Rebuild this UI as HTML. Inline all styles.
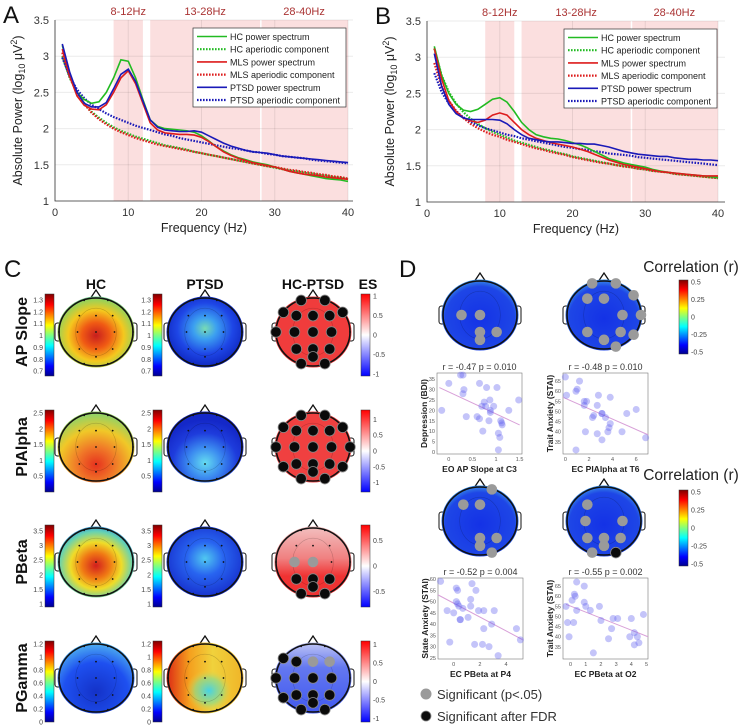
<!DOCTYPE html>
<html><head><meta charset="utf-8">
<style>
html,body{margin:0;padding:0;background:#fff;}
svg{display:block;font-family:"Liberation Sans",sans-serif;}
</style></head>
<body>
<svg id="fig" width="740" height="728" viewBox="0 0 740 728" xmlns="http://www.w3.org/2000/svg">
<defs>
  <linearGradient id="jet" x1="0" y1="1" x2="0" y2="0">
    <stop offset="0" stop-color="#00008f"/><stop offset="0.12" stop-color="#0000ff"/>
    <stop offset="0.37" stop-color="#00ffff"/><stop offset="0.5" stop-color="#80ff80"/>
    <stop offset="0.62" stop-color="#ffff00"/><stop offset="0.87" stop-color="#ff0000"/>
    <stop offset="1" stop-color="#800000"/>
  </linearGradient>
  <linearGradient id="bwr" x1="0" y1="1" x2="0" y2="0">
    <stop offset="0" stop-color="#0000ff"/><stop offset="0.5" stop-color="#ffffff"/><stop offset="1" stop-color="#ff0000"/>
  </linearGradient>
  <radialGradient id="g1hc" cx="0.5" cy="0.55" r="0.6"><stop offset="0" stop-color="#c81e1e"/><stop offset="0.3" stop-color="#f05a14"/><stop offset="0.6" stop-color="#f5c81e"/><stop offset="0.85" stop-color="#96d25a"/><stop offset="1" stop-color="#46c8e6"/></radialGradient>
  <radialGradient id="g1pt" cx="0.5" cy="0.45" r="0.6"><stop offset="0" stop-color="#78dcb4"/><stop offset="0.25" stop-color="#3ca0f0"/><stop offset="0.6" stop-color="#1e46e6"/><stop offset="1" stop-color="#0a1eb4"/></radialGradient>
  <radialGradient id="g2hc" cx="0.5" cy="0.75" r="0.7"><stop offset="0" stop-color="#e6321e"/><stop offset="0.35" stop-color="#f07828"/><stop offset="0.7" stop-color="#f0c828"/><stop offset="1" stop-color="#96d264"/></radialGradient>
  <radialGradient id="g2pt" cx="0.5" cy="0.72" r="0.6"><stop offset="0" stop-color="#64dcf0"/><stop offset="0.35" stop-color="#3c8cf0"/><stop offset="0.7" stop-color="#1e3cdc"/><stop offset="1" stop-color="#1428c8"/></radialGradient>
  <radialGradient id="g3hc" cx="0.5" cy="0.55" r="0.6"><stop offset="0" stop-color="#d21e1e"/><stop offset="0.3" stop-color="#f07814"/><stop offset="0.55" stop-color="#f0dc28"/><stop offset="0.8" stop-color="#64d2b4"/><stop offset="1" stop-color="#2878f0"/></radialGradient>
  <radialGradient id="g3pt" cx="0.5" cy="0.45" r="0.6"><stop offset="0" stop-color="#50c8f0"/><stop offset="0.4" stop-color="#2864f0"/><stop offset="1" stop-color="#1428c8"/></radialGradient>
  <linearGradient id="g3es" x1="0" y1="0" x2="0" y2="1"><stop offset="0" stop-color="#f2c0c0"/><stop offset="0.45" stop-color="#f08080"/><stop offset="0.7" stop-color="#f03232"/><stop offset="1" stop-color="#f03232"/></linearGradient>
  <radialGradient id="g4hc" cx="0.5" cy="0.7" r="0.7"><stop offset="0" stop-color="#1432c8"/><stop offset="0.6" stop-color="#1e50f0"/><stop offset="1" stop-color="#50b4f0"/></radialGradient>
  <linearGradient id="g4pt" x1="0" y1="0" x2="1" y2="0"><stop offset="0" stop-color="#dc2814"/><stop offset="0.3" stop-color="#f5a01e"/><stop offset="0.6" stop-color="#f0d23c"/><stop offset="1" stop-color="#f0b428"/></linearGradient>
  <radialGradient id="g4ptb" cx="0.55" cy="0.68" r="0.3"><stop offset="0" stop-color="#46d2e6"/><stop offset="0.6" stop-color="#8cdc8c" stop-opacity="0.7"/><stop offset="1" stop-color="#f0d23c" stop-opacity="0"/></radialGradient>
  <linearGradient id="g4es" x1="0" y1="0" x2="0" y2="1"><stop offset="0" stop-color="#c0c6f5"/><stop offset="0.35" stop-color="#6478f0"/><stop offset="1" stop-color="#4058f0"/></linearGradient>
  <radialGradient id="gd" cx="0.5" cy="0.55" r="0.6"><stop offset="0" stop-color="#1432e6"/><stop offset="0.75" stop-color="#1e46e6"/><stop offset="1" stop-color="#46b4e6"/></radialGradient>
</defs>
</svg>
<script>
const NS='http://www.w3.org/2000/svg';
const svg=document.getElementById('fig');
function el(tag,attrs,parent){const e=document.createElementNS(NS,tag);for(const k in attrs)e.setAttribute(k,attrs[k]);(parent||svg).appendChild(e);return e;}
function txt(x,y,s,attrs,parent){const t=el('text',Object.assign({x:x,y:y},attrs||{}),parent);t.textContent=s;return t;}

// ===== Spectra data =====
const freqs=[1,2,3,4,5,6,7,8,9,10,11,12,13,14,15,16,17,18,19,20,21,22,23,24,25,26,27,28,29,30,31,32,33,34,35,36,37,38,39,40];
const seriesNames=['HC power spectrum','HC aperiodic component','MLS power spectrum','MLS aperiodic component','PTSD power spectrum','PTSD aperiodic component'];
const aHcPow=[3.15,2.75,2.5,2.4,2.35,2.37,2.5,2.7,2.95,2.93,2.7,2.4,2.12,2.03,2.0,1.99,1.98,1.97,1.95,1.9,1.83,1.75,1.69,1.64,1.6,1.57,1.54,1.52,1.5,1.47,1.44,1.41,1.39,1.37,1.35,1.33,1.31,1.3,1.29,1.27];
const aHcAp=[3.0,2.7,2.5,2.35,2.23,2.15,2.08,2.02,1.97,1.93,1.89,1.86,1.83,1.8,1.77,1.75,1.73,1.71,1.68,1.66,1.64,1.62,1.6,1.58,1.56,1.54,1.52,1.5,1.48,1.46,1.44,1.42,1.41,1.39,1.38,1.36,1.35,1.33,1.32,1.3];
const aMlsPow=[3.1,2.72,2.45,2.32,2.27,2.26,2.33,2.5,2.7,2.8,2.62,2.35,2.08,1.98,1.94,1.93,1.92,1.92,1.91,1.88,1.82,1.75,1.68,1.63,1.59,1.56,1.53,1.51,1.49,1.47,1.44,1.41,1.39,1.37,1.36,1.35,1.33,1.32,1.31,1.3];
const aMlsAp=[3.05,2.72,2.5,2.34,2.22,2.13,2.06,2.0,1.95,1.91,1.87,1.84,1.81,1.78,1.76,1.74,1.72,1.7,1.68,1.66,1.64,1.62,1.6,1.58,1.56,1.54,1.52,1.5,1.48,1.47,1.45,1.43,1.42,1.4,1.39,1.37,1.36,1.34,1.33,1.31];
const aPtsdPow=[3.17,2.78,2.5,2.35,2.3,2.3,2.36,2.55,2.75,2.82,2.65,2.38,2.12,2.02,1.98,1.97,1.96,1.96,1.97,1.95,1.9,1.85,1.8,1.76,1.73,1.7,1.68,1.67,1.66,1.64,1.62,1.61,1.6,1.59,1.58,1.57,1.56,1.55,1.54,1.53];
const aPtsdAp=[2.98,2.72,2.54,2.42,2.33,2.27,2.21,2.16,2.12,2.08,2.04,2.01,1.98,1.95,1.92,1.9,1.87,1.85,1.83,1.81,1.79,1.77,1.75,1.73,1.72,1.7,1.68,1.67,1.65,1.64,1.62,1.61,1.6,1.59,1.57,1.56,1.55,1.54,1.53,1.52];
const bHcPow=[3.15,2.75,2.5,2.35,2.27,2.25,2.28,2.35,2.42,2.44,2.38,2.25,2.1,2.0,1.93,1.9,1.88,1.87,1.85,1.82,1.79,1.75,1.7,1.65,1.6,1.57,1.54,1.52,1.5,1.48,1.45,1.43,1.41,1.4,1.39,1.38,1.37,1.36,1.35,1.34];
const bHcAp=[3.12,2.75,2.52,2.36,2.24,2.15,2.08,2.02,1.97,1.93,1.89,1.85,1.82,1.79,1.76,1.73,1.71,1.68,1.66,1.63,1.61,1.59,1.57,1.55,1.53,1.51,1.5,1.48,1.46,1.45,1.43,1.42,1.41,1.39,1.38,1.37,1.36,1.35,1.34,1.33];
const bMlsPow=[3.12,2.7,2.4,2.25,2.16,2.12,2.1,2.13,2.2,2.23,2.2,2.1,2.0,1.93,1.88,1.85,1.82,1.8,1.78,1.76,1.73,1.7,1.66,1.62,1.58,1.55,1.52,1.5,1.48,1.46,1.44,1.42,1.41,1.4,1.39,1.38,1.37,1.36,1.36,1.36];
const bMlsAp=[2.92,2.6,2.4,2.26,2.16,2.08,2.02,1.97,1.93,1.9,1.86,1.83,1.8,1.77,1.74,1.72,1.69,1.67,1.65,1.62,1.6,1.58,1.56,1.54,1.53,1.51,1.49,1.48,1.46,1.45,1.43,1.42,1.41,1.39,1.38,1.37,1.36,1.35,1.34,1.33];
const bPtsdPow=[3.05,2.6,2.35,2.22,2.16,2.14,2.14,2.14,2.14,2.13,2.08,2.0,1.93,1.88,1.86,1.84,1.83,1.83,1.82,1.81,1.81,1.8,1.8,1.78,1.76,1.73,1.7,1.68,1.66,1.65,1.64,1.63,1.63,1.61,1.6,1.59,1.59,1.58,1.58,1.57];
const bPtsdAp=[2.78,2.52,2.36,2.25,2.17,2.11,2.06,2.02,1.99,1.96,1.93,1.91,1.88,1.86,1.84,1.82,1.8,1.78,1.76,1.75,1.73,1.72,1.7,1.69,1.67,1.66,1.65,1.64,1.62,1.61,1.6,1.59,1.58,1.57,1.56,1.55,1.54,1.53,1.52,1.51];
const xTicks=[0,10,20,30,40];
const yTicks=[1,1.5,2,2.5,3,3.5];
const bands=[[8,12,'8-12Hz'],[13,28,'13-28Hz'],[28,40,'28-40Hz']];

function spectrum(name,letter,x0,x1,boxR,yTop,yBot,data,legX){
  const g=el('g',{});
  
  
  const X=f=>x0+(x1-x0)*f/40, Y=v=>yBot-(yBot-yTop)*(v-1)/2.5;
  const L=txt(x0-52,yTop+3,letter,{'font-size':24,fill:'#111'},g);
  
  
  bands.forEach((b,i)=>{
    const r=el('rect',{x:X(b[0])+(i==2?1.5:0),y:yTop,width:X(b[1])-X(b[0])-(i==2?1.5:0),height:yBot-yTop,fill:'#fbdfdf'},g);
    
    
    const t=txt((X(b[0])+X(b[1]))/2,yTop-5,b[2],{'font-size':11,fill:'#a33','text-anchor':'middle'},g);
    
    
  });
  xTicks.forEach(v=>{
    el('line',{x1:X(v),x2:X(v),y1:yTop,y2:yBot,stroke:'#000','stroke-opacity':0.08},g);
    const t=txt(X(v),yBot+15,String(v),{'font-size':11,fill:'#333','text-anchor':'middle'},g);
    
    
  });
  yTicks.forEach(v=>{
    el('line',{x1:x0,x2:boxR,y1:Y(v),y2:Y(v),stroke:'#000','stroke-opacity':0.08},g);
    const t=txt(x0-6,Y(v)+4,String(v),{'font-size':11,fill:'#333','text-anchor':'end'},g);
    
    
  });
  el('path',{d:`M${x0},${yTop}V${yBot}H${boxR}`,stroke:'#333',fill:'none','stroke-width':0.8},g);
  const cols=['#22bb22','#22bb22','#dd1c1c','#dd1c1c','#1a1ab8','#1a1ab8'];
  const order=[1,3,5,0,2,4];
  order.forEach(i=>{
    const vals=data[i];
    let d='';freqs.forEach((f,k)=>{d+=(k?'L':'M')+X(f).toFixed(1)+','+Y(vals[k]).toFixed(1);});
    const p=el('path',{d:d,fill:'none',stroke:cols[i],'stroke-width':i%2?2.2:1.6,'stroke-dasharray':i%2?'1.6,1.4':'none'},g);
    
    
  });
  const lg=el('g',{},g);
  
  
  el('rect',{x:legX,y:yTop+8,width:153,height:79,fill:'#fff',stroke:'#333','stroke-width':0.7},lg);
  seriesNames.forEach((s,i)=>{
    const yy=yTop+16.5+i*12.7;
    el('line',{x1:legX+4,x2:legX+34,y1:yy,y2:yy,stroke:cols[i],'stroke-width':i%2?2.2:1.6,'stroke-dasharray':i%2?'1.6,1.4':'none'},lg);
    const t=txt(legX+37,yy+3.5,s,{'font-size':9,fill:'#222'},lg);
    
    
  });
  const xl=txt((x0+boxR)/2,yBot+31,'Frequency (Hz)',{'font-size':12.5,fill:'#222','text-anchor':'middle'},g);
  
  
  const yl=el('text',{x:0,y:0,'font-size':12.5,fill:'#222','text-anchor':'middle',transform:`translate(${x0-33},${(yTop+yBot)/2}) rotate(-90)`},g);
  yl.innerHTML='Absolute Power (log<tspan font-size="9" dy="3">10</tspan><tspan dy="-3"> μV</tspan><tspan font-size="9" dy="-5">2</tspan><tspan dy="5">)</tspan>';
  
  
}
spectrum('panel-a-spectrum','A',55,348,353,20,201,[aHcPow,aHcAp,aMlsPow,aMlsAp,aPtsdPow,aPtsdAp],193);
spectrum('panel-b-spectrum','B',427,718,725,21,202,[bHcPow,bHcAp,bMlsPow,bMlsAp,bPtsdPow,bPtsdAp],564);

// ===== Topographic maps =====
const elec={Fp1:[-0.32,-0.93],Fp2:[0.32,-0.93],F7:[-0.8,-0.58],F3:[-0.45,-0.48],Fz:[0,-0.48],F4:[0.45,-0.48],F8:[0.8,-0.58],T7:[-1.0,0],C3:[-0.5,0],Cz:[0,0],C4:[0.5,0],T8:[1.0,0],P7:[-0.8,0.58],P3:[-0.45,0.5],Pz:[0,0.5],P4:[0.45,0.5],P8:[0.8,0.58],Oz:[0,0.73],O1:[-0.32,0.93],O2:[0.32,0.93]};
const smallDots=['F3','Fz','F4','T7','C3','Cz','C4','T8','P3','Pz','P4','Oz','Fp1','Fp2','O1','O2'];
function head(name,cx,cy,fill,overlay,black,gray,dots){
  const g=el('g',{});
  
  
  const rx=37,ry=34;
  el('path',{d:`M${cx-6},${cy-ry+1}L${cx},${cy-ry-8}L${cx+6},${cy-ry+1}`,fill:'none',stroke:'#111','stroke-width':1.3},g);
  el('rect',{x:cx-rx-4,y:cy-9,width:6,height:18,rx:2.5,fill:'none',stroke:'#111','stroke-width':1},g);
  el('rect',{x:cx+rx-2,y:cy-9,width:6,height:18,rx:2.5,fill:'none',stroke:'#111','stroke-width':1},g);
  el('ellipse',{cx:cx,cy:cy,rx:rx+1.5,ry:ry+1.5,fill:fill},g);
  if(overlay)el('ellipse',{cx:cx,cy:cy,rx:rx+1.5,ry:ry+1.5,fill:overlay},g);
  el('ellipse',{cx:cx,cy:cy,rx:rx*0.55,ry:ry*0.7,fill:'none',stroke:'#000','stroke-opacity':0.2,'stroke-width':0.6},g);
  el('ellipse',{cx:cx,cy:cy,rx:rx,ry:ry,fill:'none',stroke:'#111','stroke-width':1.6},g);
  const P=k=>[cx+elec[k][0]*rx,cy+elec[k][1]*ry];
  if(dots)smallDots.forEach(k=>{if(black.indexOf(k)<0&&gray.indexOf(k)<0){const p=P(k);el('circle',{cx:p[0],cy:p[1],r:0.9,fill:'#111'},g);}});
  gray.forEach(k=>{const p=P(k);const c=el('circle',{cx:p[0],cy:p[1],r:5.3,fill:'#9a9a9a'},g);});
  black.forEach(k=>{const p=P(k);const c=el('circle',{cx:p[0],cy:p[1],r:5.3,fill:'#0a0a0a',stroke:'#888','stroke-width':0.8},g);});
}
function cbar(name,x,y0,y1,grad,ticks,lo,hi,side){
  const g=el('g',{});
  
  
  el('rect',{x:x,y:y0,width:9,height:y1-y0,fill:'url(#'+grad+')',stroke:'#333','stroke-width':0.5},g);
  ticks.forEach(v=>{
    const yy=y1-(y1-y0)*(v-lo)/(hi-lo);
    const t=txt(side=='l'?x-2:x+12,yy+2.5,String(v),{'font-size':7,fill:'#444','text-anchor':side=='l'?'end':'start'},g);
    
    
  });
}
const allE=Object.keys(elec);
// row 1
cbar('colorbar-ap-hc',45,294,376,'jet',[0.7,0.8,0.9,1,1.1,1.2,1.3],0.66,1.35,'l');
cbar('colorbar-ap-ptsd',153,294,376,'jet',[0.7,0.8,0.9,1,1.1,1.2,1.3],0.66,1.35,'l');
cbar('colorbar-ap-es',361,294,376,'bwr',[-1,-0.5,0,0.5,1],-1.05,1.05,'r');
head('topo-ap-hc',96,332,'url(#g1hc)',null,[],[],true);
head('topo-ap-ptsd',205,332,'url(#g1pt)',null,[],[],true);
head('topo-ap-es',313,332,'#f03c3c',null,['Fp1','Fp2','F7','F8','F3','Fz','F4','T7','C3','Cz','C4','P3','Pz','P4','Oz','O1','O2'],[],true);
// row 2
cbar('colorbar-pialpha-hc',45,410,492,'jet',[0.5,1,1.5,2,2.5],0,2.6,'l');
cbar('colorbar-pialpha-ptsd',153,410,492,'jet',[0.5,1,1.5,2,2.5],0,2.6,'l');
cbar('colorbar-pialpha-es',361,410,492,'bwr',[-1,-0.5,0,0.5,1],-1.3,1.3,'r');
head('topo-pialpha-hc',96,447,'url(#g2hc)',null,[],[],true);
head('topo-pialpha-ptsd',205,447,'url(#g2pt)',null,[],[],true);
head('topo-pialpha-es',313,447,'#f04040',null,allE,[],true);
// row 3
cbar('colorbar-pbeta-hc',45,525,607,'jet',[1,1.5,2,2.5,3,3.5],0.9,3.7,'l');
cbar('colorbar-pbeta-ptsd',153,525,607,'jet',[1,1.5,2,2.5,3,3.5],0.9,3.7,'l');
cbar('colorbar-pbeta-es',361,525,607,'bwr',[-0.5,0,0.5],-0.8,0.8,'r');
head('topo-pbeta-hc',96,562,'url(#g3hc)',null,[],[],true);
head('topo-pbeta-ptsd',205,562,'url(#g3pt)',null,[],[],true);
head('topo-pbeta-es',313,562,'url(#g3es)',null,['P3','Pz','P4','Oz','O1','O2'],['C3','Cz'],true);
// row 4
cbar('colorbar-pgamma-hc',45,641,722,'jet',[0,0.2,0.4,0.6,0.8,1,1.2],0,1.25,'l');
cbar('colorbar-pgamma-ptsd',153,641,722,'jet',[0,0.2,0.4,0.6,0.8,1,1.2],0,1.25,'l');
cbar('colorbar-pgamma-es',361,641,722,'bwr',[-1,-0.5,0,0.5,1],-1.1,1.1,'r');
head('topo-pgamma-hc',96,678,'url(#g4hc)',null,[],[],true);
head('topo-pgamma-ptsd',205,678,'url(#g4pt)','url(#g4ptb)',[],[],true);
head('topo-pgamma-es',313,678,'url(#g4es)',null,['F7','F3','T7','C3','Cz','C4','P7','P3','Pz','P4','Oz','O1','O2'],['Fz','F4'],true);

// Panel C labels
(function(){
  let t=txt(4,277,'C',{'font-size':24,fill:'#111'});
  
  [['HC',96],['PTSD',205],['HC-PTSD',313],['ES',368]].forEach(c=>{
    const s=txt(c[1],289,c[0],{'font-size':14,'font-weight':'bold',fill:'#111','text-anchor':'middle'});
    
  });
  [['AP Slope',332],['PIAlpha',447],['PBeta',562],['PGamma',678]].forEach(r=>{
    const s=txt(0,0,r[0],{'font-size':16,'font-weight':'bold',fill:'#111','text-anchor':'middle',transform:`translate(27,${r[1]}) rotate(-90)`});
    
  });
  t=txt(399,277,'D',{'font-size':24,fill:'#111'});
  
})();

// Panel D heads
head('corr-topo-ap-slope',480,315,'url(#gd)',null,[],['C3','Cz','Pz','P4','Oz'],false);
head('corr-topo-pialpha',604,315,'url(#gd)',null,[],['Fp1','Fp2','F8','F3','Fz','T8','C4','P3','P4','P8','Oz','O2'],false);
head('corr-topo-pbeta-p4',480,521,'url(#gd)',null,[],['Fp2','F3','Fz','Pz','P4','Oz','O2'],false);
head('corr-topo-pbeta-o2',604,521,'url(#gd)',null,['O2'],['F3','C3','C4','P3','Pz','P4','Oz','O1'],false);
[[272,280,354],[480,490,566]].forEach((r,i)=>{
  const t=txt(691,r[0],'Correlation (r)',{'font-size':15.5,fill:'#222','text-anchor':'middle'});
  
  cbar('colorbar-correlation-'+(i+1),679,r[1],r[2],'jet',[-0.5,-0.25,0,0.25,0.5],-0.53,0.53,'r');
});

// ===== Scatter plots =====
const s1x=[-0.15,0,0.25,0.3,0.3,0.32,0.37,0.6,0.65,0.65,0.7,0.72,0.75,0.78,0.8,0.85,0.87,0.88,0.88,0.95,1.02,1.05,1.05,1.08,1.1,1.12,1.13,1.27,1.48];
const s1y=[20,33,37,37,28,30,17,17,33,16,22,10,24,22,31,15,25,20,19,22,31,9,1,7,15,14,13,20,25];
const s2x=[0,0.1,0.9,1,1.2,0.9,1.6,1.6,1.7,1.8,2.3,2.4,2.7,2.7,2.8,3.1,3.1,3.1,3.4,3.6,3.7,3.8,3.8,4.8,5.2,6,6.8];
const s2y=[67,58,60,61,65,31,53,55,40,55,47,48,53,39,58,49,49,36,47,40,42,44,57,40,49,51,37];
const s3x=[-1,-0.5,-0.3,0,0.2,0.2,0.3,0.3,0.4,0.5,0.5,0.7,1.1,1.3,1.3,1.4,1.6,1.7,1.9,2.2,2.3,2.3,2.7,2.9,3.1,3.4,4.8,5.1];
const s3y=[59,46,32,45,50,56,55,49,48,42,42,47,43,51,48,58,31,55,46,31,46,38,30,40,46,26,38,33];
const s4x=[-0.3,-0.2,-0.1,0.1,0.2,0.25,0.3,0.4,0.4,0.9,0.9,1,1.3,1.5,1.9,2,2.5,2.7,2.8,3.1,3.9,4,4.2,4.2,4.4,4.5,4.8];
const s4y=[55,47,40,58,47,61,60,67,53,65,57,55,53,32,55,48,39,44,49,49,40,49,36,42,40,37,51];
const fits=[[-0.2,31,1.5,13],[-0.2,57,7,38.5],[-1.2,53,5.3,33],[-0.3,56,5.1,40]];
const stats=['r = -0.47  p = 0.010','r = -0.48  p = 0.010','r = -0.52  p = 0.004','r = -0.55  p = 0.002'];
function scatter(name,bx,by,xs,ys,xlim,ylim,xt,yt,fit,stat,xlab,ylab){
  const g=el('g',{});
  
  
  const w=85,h=81;
  const X=v=>bx+w*(v-xlim[0])/(xlim[1]-xlim[0]), Y=v=>by+h-h*(v-ylim[0])/(ylim[1]-ylim[0]);
  el('rect',{x:bx,y:by,width:w,height:h,fill:'#fff',stroke:'#777','stroke-width':0.6},g);
  xt.forEach(v=>{const t=txt(X(v),by+h+7,String(v),{'font-size':5.5,fill:'#555','text-anchor':'middle'},g);});
  yt.forEach(v=>{const t=txt(bx-2,Y(v)+2,String(v),{'font-size':5.5,fill:'#555','text-anchor':'end'},g);});
  const ln=el('line',{x1:X(fit[0]),y1:Y(fit[1]),x2:X(fit[2]),y2:Y(fit[3]),stroke:'#d8a0d8','stroke-width':1},g);
  
  xs.forEach((v,i)=>{const c=el('circle',{cx:X(v),cy:Y(ys[i]),r:3.5,fill:'#6464f0','fill-opacity':0.38},g);});
  let t=txt(bx+w/2,by-3,stat,{'font-size':9,fill:'#333','text-anchor':'middle'},g);
  
  t=txt(bx+w/2,by+h+18,xlab,{'font-size':8.5,'font-weight':'bold',fill:'#222','text-anchor':'middle'},g);
  
  t=txt(0,0,ylab,{'font-size':8.5,'font-weight':'bold',fill:'#222','text-anchor':'middle',transform:`translate(${bx-10},${by+h/2}) rotate(-90)`},g);
  
}
scatter('scatter-ap-slope-bdi',437,373,s1x,s1y,[-0.25,1.55],[-1,38],[0,0.5,1,1.5],[0,5,10,15,20,25,30,35],fits[0],stats[0],'EO AP Slope at C3','Depression (BDI)');
scatter('scatter-pialpha-stai',563,373,s2x,s2y,[-0.2,7],[29,69],[0,2,4,6],[35,40,45,50,55,60,65],fits[1],stats[1],'EC PIAlpha at T6','Trait Anxiety (STAI)');
scatter('scatter-pbeta-p4-stai',438,578,s3x,s3y,[-1.2,5.3],[24.5,60.5],[0,2,4],[25,30,35,40,45,50,55,60],fits[2],stats[2],'EC PBeta at P4','State Anxiety (STAI)');
scatter('scatter-pbeta-o2-stai',563,578,s4x,s4y,[-0.5,5.1],[29,69],[0,1,2,3,4,5],[35,40,45,50,55,60,65],fits[3],stats[3],'EC PBeta at O2','Trait Anxiety (STAI)');

// legend D
(function(){
  const g=el('g',{});
  
  
  el('circle',{cx:426,cy:694,r:5.5,fill:'#9a9a9a'},g);
  let t=txt(437,699,'Significant (p<.05)',{'font-size':13,fill:'#333'},g);
  
  el('circle',{cx:426,cy:716,r:5,fill:'#0a0a0a',stroke:'#888','stroke-width':0.8},g);
  t=txt(437,721,'Significant after FDR',{'font-size':13,fill:'#333'},g);
  
})();
</script>
</body></html>
